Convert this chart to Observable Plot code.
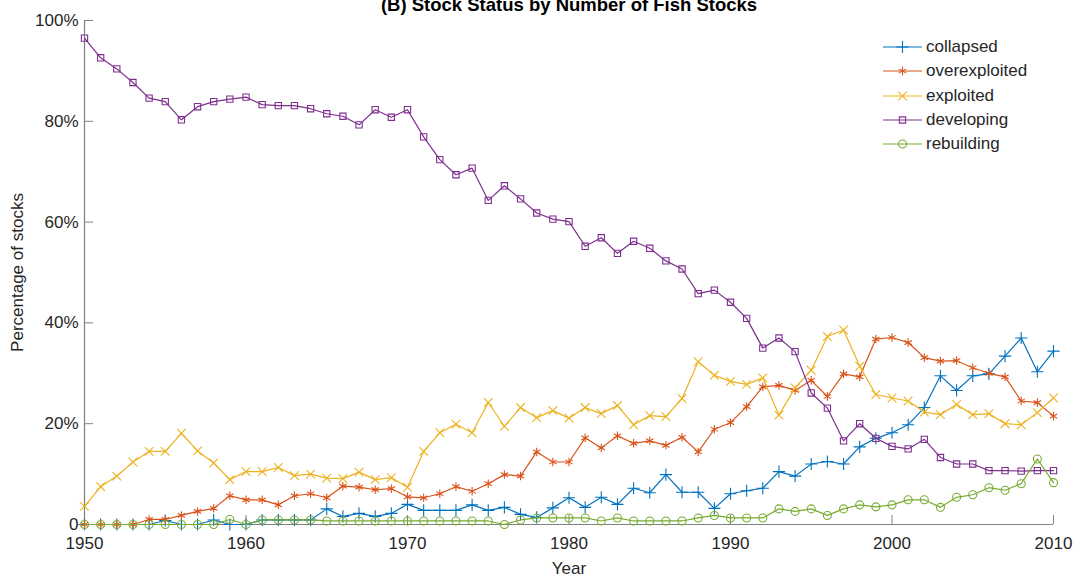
<!DOCTYPE html>
<html>
<head>
<meta charset="utf-8">
<script src="https://cdn.jsdelivr.net/npm/d3@7"></script>
<script src="https://cdn.jsdelivr.net/npm/@observablehq/plot@0.6"></script>
<style>
  html, body { margin: 0; padding: 0; background: #fff; }
  #wrap { position: relative; width: 1082px; height: 583px; overflow: hidden; font-family: "Liberation Sans", Arial, sans-serif; }
  #legend { position: absolute; left: 880px; top: 35px; color: #262626; font-size: 17px; }
  .lrow { display: flex; align-items: center; height: 24.3px; }
  .lrow svg { display: block; margin-right: 4px; }
</style>
</head>
<body>
<div id="wrap"><div id="legend"></div></div>
<script>
const years = [1950,1951,1952,1953,1954,1955,1956,1957,1958,1959,
  1960,1961,1962,1963,1964,1965,1966,1967,1968,1969,
  1970,1971,1972,1973,1974,1975,1976,1977,1978,1979,
  1980,1981,1982,1983,1984,1985,1986,1987,1988,1989,
  1990,1991,1992,1993,1994,1995,1996,1997,1998,1999,
  2000,2001,2002,2003,2004,2005,2006,2007,2008,2009,2010];

const statusNames = ["collapsed", "overexploited", "exploited", "developing", "rebuilding"];

const collapsed = [0,0,0,0,0,0.8,0,0,0.9,0,
  0,0.9,0.9,0.9,0.9,3.1,1.6,2.2,1.6,2.2,
  4.0,2.8,2.8,2.8,3.9,2.8,3.4,2.0,1.4,3.3,
  5.3,3.4,5.4,4.0,7.2,6.3,9.9,6.4,6.4,3.2,
  6.1,6.7,7.2,10.5,9.6,12.0,12.5,12.0,15.4,17.1,
  18.2,19.8,23.2,29.5,26.6,29.5,29.9,33.4,37.0,30.3,34.4];

const overexploited = [0,0,0,0,1.0,1.0,1.8,2.6,3.2,5.7,
  4.9,4.9,3.9,5.7,6.1,5.3,7.6,7.4,6.9,7.1,
  5.5,5.3,6.1,7.5,6.6,8.1,9.9,9.6,14.4,12.4,
  12.4,17.2,15.2,17.6,16.1,16.6,15.7,17.3,14.4,18.9,
  20.2,23.4,27.3,27.6,26.6,28.6,25.4,29.9,29.3,36.8,
  37.1,36.1,33.1,32.4,32.5,31.1,30.0,29.3,24.5,24.2,21.5];

const exploited = [3.6,7.5,9.6,12.4,14.5,14.5,18.1,14.6,12.2,8.9,
  10.5,10.5,11.3,9.7,10.0,9.2,9.1,10.4,8.9,9.3,
  7.4,14.5,18.2,19.9,18.2,24.2,19.5,23.2,21.2,22.6,
  21.1,23.2,22.0,23.6,19.8,21.6,21.4,25.0,32.3,29.6,
  28.4,27.8,29.1,21.7,27.1,30.6,37.3,38.6,31.4,25.8,
  25.1,24.5,22.3,21.8,23.8,21.8,22.0,20.0,19.8,22.2,25.1];

const developing = [96.5,92.6,90.4,87.7,84.6,83.9,80.3,82.9,83.9,84.4,
  84.8,83.3,83.1,83.1,82.5,81.5,81.0,79.3,82.3,80.8,
  82.3,76.9,72.4,69.4,70.7,64.3,67.2,64.6,61.8,60.6,
  60.1,55.2,56.9,53.8,56.2,54.8,52.3,50.7,45.8,46.5,
  44.1,40.9,35.0,37.0,34.3,26.1,23.1,16.6,20.0,17.1,
  15.5,15.0,16.9,13.3,12.0,12.0,10.7,10.7,10.6,10.7,10.7];

const rebuilding = [0,0,0,0,0,0,0,0,0,1.0,
  0,0.9,0.9,0.9,0.9,0.7,0.7,0.7,0.7,0.7,
  0.7,0.7,0.7,0.7,0.7,0.7,0,0.9,1.3,1.3,
  1.3,1.3,0.7,1.3,0.7,0.7,0.7,0.7,1.3,1.8,
  1.3,1.3,1.3,3.1,2.6,3.1,1.8,3.1,3.9,3.5,
  3.9,4.9,4.9,3.4,5.4,5.9,7.3,6.8,8.1,13.0,8.3];

const xTicks = [1950, 1960, 1970, 1980, 1990, 2000, 2010];
const yTicks = [0, 20, 40, 60, 80, 100];

const titleText = "(B) Stock Status by Number of Fish Stocks";
const xLabel = "Year";
const yLabel = "Percentage of stocks";

// styles
const seriesValues = [collapsed, overexploited, exploited, developing, rebuilding];
const colors = ["#0072BD", "#D95319", "#EDB120", "#7E2F8E", "#77AC30"];
const symbols = ["plus", "asterisk", "times", "square2", "circle"];
const d3Symbols = [d3.symbolPlus, d3.symbolAsterisk, d3.symbolTimes, d3.symbolSquare2, d3.symbolCircle];

const rows = statusNames.flatMap((name, i) =>
  years.map((year, j) => ({ year, pct: seriesValues[i][j], status: name })));

const axisColor = "#808080";
const textColor = "#262626";

const marks = [
  Plot.ruleY([0], { stroke: axisColor, strokeWidth: 1.2 }),
  Plot.ruleX([1950], { stroke: axisColor, strokeWidth: 1.2 }),
  Plot.axisX({ ticks: xTicks, tickSize: -9, text: null, stroke: axisColor, label: null }),
  Plot.axisX({ ticks: xTicks, tickSize: 0, tickPadding: 12, tickFormat: d => String(d), label: null, fill: textColor }),
  Plot.axisY({ ticks: yTicks, tickSize: -9, text: null, stroke: axisColor, label: null }),
  Plot.axisY({ ticks: yTicks, tickSize: 0, tickPadding: 6, tickFormat: d => d === 0 ? "0" : d + "%", label: null, fill: textColor }),
];

statusNames.forEach((name, i) => {
  const data = rows.filter(r => r.status === name);
  marks.push(Plot.line(data, { x: "year", y: "pct", stroke: colors[i], strokeWidth: 1.2 }));
  marks.push(Plot.dot(data, { x: "year", y: "pct", stroke: colors[i], fill: "none", symbol: symbols[i], r: 4, strokeWidth: 1.1 }));
});

marks.push(Plot.text([xLabel], { text: d => d, frameAnchor: "bottom", textAnchor: "middle", lineAnchor: "middle", dy: 44, fontSize: 17, fill: textColor }));
marks.push(Plot.text([yLabel], { text: d => d, frameAnchor: "left", textAnchor: "middle", lineAnchor: "middle", rotate: -90, dx: -67, fontSize: 17, fill: textColor }));
marks.push(Plot.text([titleText], { text: d => d, frameAnchor: "top", textAnchor: "middle", lineAnchor: "bottom", dy: -10, fontSize: 18.5, fontWeight: "bold", fill: "#000" }));

const chart = Plot.plot({
  width: 1082,
  height: 583,
  marginLeft: 84,
  marginRight: 29,
  marginTop: 20,
  marginBottom: 59,
  x: { domain: [1950, 2010] },
  y: { domain: [0, 100] },
  style: { fontFamily: "'Liberation Sans', Arial, sans-serif", fontSize: "17px", color: textColor, background: "white", overflow: "visible" },
  marks
});
document.getElementById("wrap").prepend(chart);

// legend
const legend = document.getElementById("legend");
statusNames.forEach((name, i) => {
  const row = document.createElement("div");
  row.className = "lrow";
  const ns = "http://www.w3.org/2000/svg";
  const svg = document.createElementNS(ns, "svg");
  svg.setAttribute("width", 42);
  svg.setAttribute("height", 24);
  const line = document.createElementNS(ns, "line");
  line.setAttribute("x1", 3); line.setAttribute("x2", 42);
  line.setAttribute("y1", 12); line.setAttribute("y2", 12);
  line.setAttribute("stroke", colors[i]); line.setAttribute("stroke-width", 1.2);
  svg.appendChild(line);
  const p = document.createElementNS(ns, "path");
  p.setAttribute("d", d3.symbol(d3Symbols[i], Math.PI * 16)());
  p.setAttribute("transform", "translate(22.5,12)");
  p.setAttribute("fill", "none");
  p.setAttribute("stroke", colors[i]);
  p.setAttribute("stroke-width", 1.1);
  svg.appendChild(p);
  row.appendChild(svg);
  const span = document.createElement("span");
  span.textContent = name;
  row.appendChild(span);
  legend.appendChild(row);
});
</script>
</body>
</html>
